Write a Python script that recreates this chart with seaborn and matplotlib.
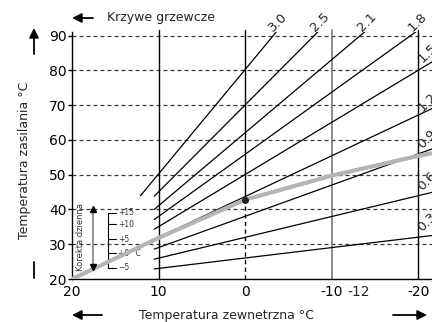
import pandas as pd
import seaborn as sns
import matplotlib.pyplot as plt

# heating curves (slope label, start point, end point)
curve_names = ['3.0', '2.5', '2.1', '1.8', '1.5', '1.2', '0.9', '0.6', '0.3']
curve_x0 = [12.1, 10.5, 10.5, 10.5, 10.5, 10.5, 10.5, 10.5, 10.5]
curve_y0 = [43.9, 43.8, 40.0, 37.1, 34.3, 31.4, 28.6, 25.7, 22.9]
curve_x1 = [-3.6, -8.4, -13.8, -19.7, -21.6, -21.6, -21.6, -21.6, -21.6]
curve_y1 = [91.0, 91.0, 91.0, 91.0, 82.4, 69.0, 57.4, 44.9, 32.5]

# label spots for the curves that run off the right edge
edge_names = ['1.5', '1.2', '0.9', '0.6', '0.3']
edge_label_y = [81.5, 67.5, 56.8, 44.8, 33.0]

# the highlighted (grey) working curve
out_temp = [20, 10, 0, -10, -20, -21.6]
flow_temp = [20, 31.8, 42.8, 49.7, 55.4, 56.2]

# day correction scale
corr_labels = ['+15', '+10', '+5', '+0 °C', '\u22125']
corr_y = [39.0, 35.7, 31.5, 27.4, 23.3]

y_ticks = [20, 30, 40, 50, 60, 70, 80, 90]
x_ticks = [20, 10, 0, -10, -20]
x_ticklabels = ['20', '10', '0', '-10', '-20']

sns.set_style('white')
plt.rcParams['font.family'] = ['DejaVu Sans']

fig = plt.figure(figsize=(4.32, 3.22), dpi=100)
ax = fig.add_axes([0.1667, 0.1335, 0.8333, 0.767])
ax.set_xlim(20, -21.6)
ax.set_ylim(20, 91)

# dashed horizontals
for y in y_ticks[1:]:
    ax.axhline(y, color='#3a3a3a', lw=0.9, ls=(0, (3.2, 2.4)), zorder=1)

# vertical reference lines
ax.plot([10, 10], [20, 91.5], color='black', lw=1.0, clip_on=False, zorder=2)
ax.plot([0, 0], [flow_temp[2], 91.5], color='black', lw=1.0, clip_on=False, zorder=2)
ax.plot([0, 0], [20, flow_temp[2]], color='black', lw=1.0, ls=(0, (3, 2.5)), zorder=2)
ax.plot([-10, -10], [20, 91.5], color='#7a7a7a', lw=1.2, clip_on=False, zorder=2)
ax.plot([-20, -20], [20, 91.5], color='black', lw=1.0, clip_on=False, zorder=2)

rows = []
for name, xa, ya, xb, yb in zip(curve_names, curve_x0, curve_y0, curve_x1, curve_y1):
    rows.append({'curve': name, 'x': xa, 'y': ya})
    rows.append({'curve': name, 'x': xb, 'y': yb})
curves = pd.DataFrame(rows)
sns.lineplot(data=curves, x='x', y='y', units='curve', estimator=None,
             color='black', lw=0.9, sort=False, ax=ax, zorder=3)

sns.lineplot(x=out_temp, y=flow_temp, color='#b4b4b4', lw=3.0, ax=ax,
             zorder=4, solid_capstyle='butt')
ax.plot([0], [flow_temp[2]], 'o', color='#222222', ms=4, zorder=5)

# curve labels on top
for name, xb, yb in zip(curve_names[:4], curve_x1[:4], curve_y1[:4]):
    ax.annotate(name, (xb, yb), xytext=(1.5, 7.5), textcoords='offset points',
                ha='center', va='center', rotation=45, fontsize=9.5,
                annotation_clip=False)
# curve labels on the right edge (cut by the figure border, as in the source)
for name, yl in zip(edge_names, edge_label_y):
    ax.text(-20.7, yl, name, rotation=45, rotation_mode='anchor',
            ha='left', va='bottom', fontsize=9.5, clip_on=False)

# day correction inset
ax.plot([17.6, 17.6], [24.0, 39.6], color='#777777', lw=1.1, zorder=3)
ax.plot([17.6], [40.2], marker='^', color='black', ms=4, zorder=4)
ax.plot([17.6], [23.4], marker='v', color='black', ms=4, zorder=4)
ax.plot([15.85, 15.85], [corr_y[-1], corr_y[0]], color='black', lw=0.8)
for lab, yv in zip(corr_labels, corr_y):
    ax.plot([15.85, 14.9], [yv, yv], color='black', lw=0.8)
    ax.text(14.7, yv, lab, fontsize=5.5, ha='left', va='center', color='#333333')
ax.text(19.0, 32.0, 'Korekta dzienna', rotation=90, fontsize=6,
        ha='center', va='center', color='#333333')

# axes styling
sns.despine(ax=ax, top=True, right=True)
ax.spines['left'].set_color('black')
ax.spines['bottom'].set_color('black')
ax.spines['left'].set_linewidth(1.0)
ax.spines['bottom'].set_linewidth(1.0)
ax.set_yticks(y_ticks)
ax.set_yticklabels([str(v) for v in y_ticks])
ax.set_xticks(x_ticks)
ax.set_xticklabels(x_ticklabels)
ax.tick_params(axis='y', direction='out', length=3, width=1.0, pad=1,
               labelsize=10, left=True, colors='black')
ax.tick_params(axis='x', length=0, pad=4, labelsize=10, colors='black')
ax.annotate('-12', (-13.1, 20), xytext=(0, -4), textcoords='offset points',
            ha='center', va='top', fontsize=10, annotation_clip=False)
ax.set_xlabel('')
ax.set_ylabel('')
ax.grid(False)

fig.text(25 / 432, 1 - 160 / 322, 'Temperatura zasilania °C', rotation=90,
         ha='center', va='center', fontsize=9)
fig.text(227 / 432, 1 - 315 / 322, 'Temperatura zewnetrzna °C',
         ha='center', va='center', fontsize=9)
fig.text(107 / 432, 1 - 18 / 322, 'Krzywe grzewcze',
         ha='left', va='center', fontsize=9)

arrow = dict(arrowstyle='-|>', color='black', lw=1.3, mutation_scale=14,
             shrinkA=0, shrinkB=0)
ax.annotate('', xy=(72, 7), xytext=(102, 7), xycoords='figure pixels',
            textcoords='figure pixels', arrowprops=arrow)
ax.annotate('', xy=(427, 7), xytext=(393, 7), xycoords='figure pixels',
            textcoords='figure pixels', arrowprops=arrow)
ax.annotate('', xy=(34, 294), xytext=(34, 268), xycoords='figure pixels',
            textcoords='figure pixels', arrowprops=arrow)
ax.annotate('', xy=(72, 304), xytext=(93, 304), xycoords='figure pixels',
            textcoords='figure pixels', arrowprops=arrow)
fig.add_artist(plt.Line2D([34 / 432, 34 / 432], [44 / 322, 60 / 322],
                          color='black', lw=1.3))

fig.savefig('out.png', dpi=100)
